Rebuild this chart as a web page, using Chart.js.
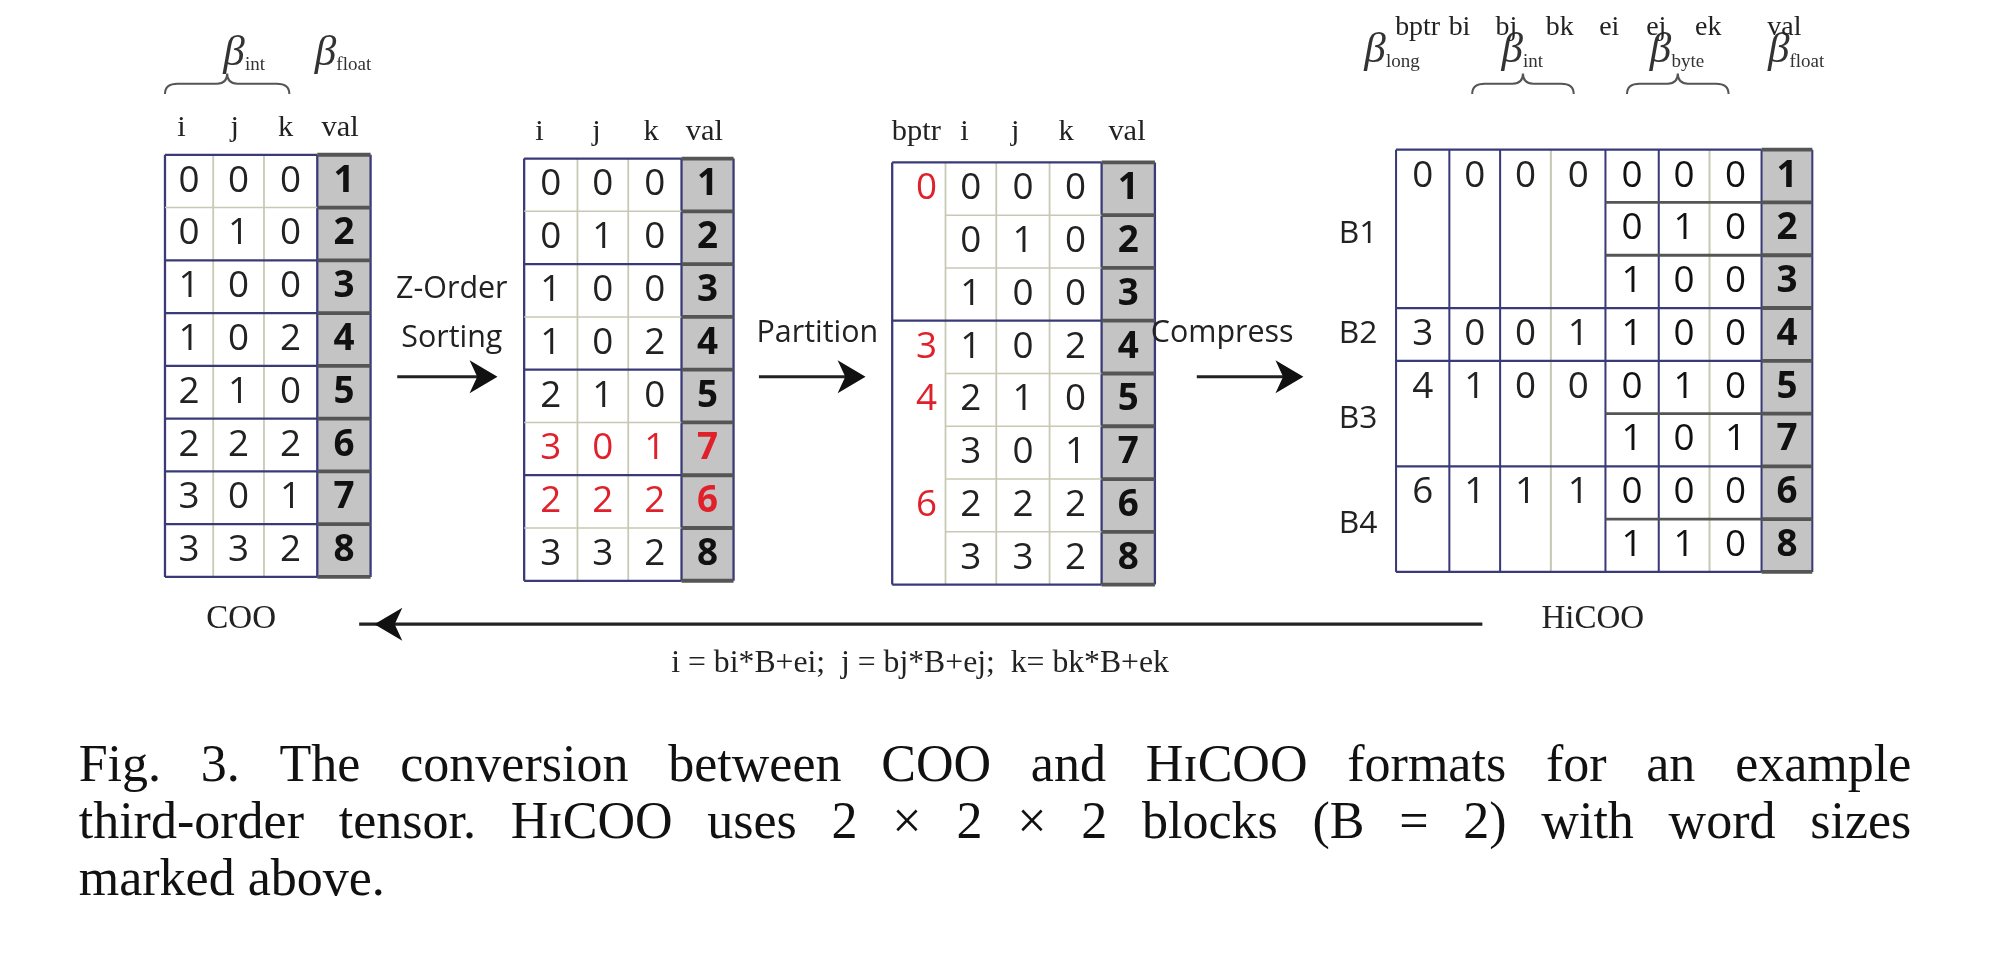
<!DOCTYPE html>
<html lang="en">
<head>
<meta charset="UTF-8">
<title>COO to HiCOO</title>
<script src="https://cdn.jsdelivr.net/npm/chart.js@4/dist/chart.umd.min.js"></script>
<style>
  html, body { margin: 0; padding: 0; background: #fff; }
  #wrap { width: 1990px; height: 954px; }
</style>
</head>
<body>
<div id="wrap"><canvas id="fig"></canvas></div>
<script>
// data (rows of i, j, k, val)
const cooRows = [[0,0,0,1],[0,1,0,2],[1,0,0,3],[1,0,2,4],[2,1,0,5],[2,2,2,6],[3,0,1,7],[3,3,2,8]];
const sortedRows = [[0,0,0,1],[0,1,0,2],[1,0,0,3],[1,0,2,4],[2,1,0,5],[3,0,1,7],[2,2,2,6],[3,3,2,8]];
const redRows = [5, 6];
const bptrValues = [0, 3, 4, 6];
const blockStartRows = [0, 3, 4, 6];
const blockNames = ['B1', 'B2', 'B3', 'B4'];
const blockCoords = [[0,0,0],[0,0,1],[1,0,0],[1,1,1]];
const elemCoords = [[0,0,0],[0,1,0],[1,0,0],[1,0,0],[0,1,0],[1,0,1],[0,0,0],[1,1,0]];
const hicooVals = [1,2,3,4,5,7,6,8];
const captionLines = [
  'Fig. 3.  The conversion between COO and H\u026aCOO formats for an example',
  'third-order tensor. H\u026aCOO uses 2 \u00d7 2 \u00d7 2 blocks (B = 2) with word sizes',
  'marked above.'
];

const W = 1568, H = 752;
const NAVY = '#3a3a78', GRID = '#c8c8b4', RED = '#e0202a';

const figPlugin = {
  id: 'fig',
  afterDraw(chart) {
    const ctx = chart.ctx, xs = chart.scales.x, ys = chart.scales.y;
    const X = v => xs.getPixelForValue(v), Y = v => ys.getPixelForValue(v);
    const S = chart.width / W;
    const font = (sz, fam, st) => `${st || ''} ${sz * S}px ${fam}`;
    const sans = '"Open Sans", "DejaVu Sans", sans-serif';
    const serif = '"Liberation Serif", "DejaVu Serif", serif';
    const text = (t, x, y, sz, fam, col, al, st) => {
      ctx.font = font(sz, fam, st); ctx.fillStyle = col || '#222';
      ctx.textAlign = al || 'center'; ctx.textBaseline = 'middle';
      ctx.fillText(t, X(x), Y(y));
    };
    const line = (x1, y1, x2, y2, col, w) => {
      ctx.beginPath(); ctx.strokeStyle = col; ctx.lineWidth = w * S;
      ctx.moveTo(X(x1), Y(y1)); ctx.lineTo(X(x2), Y(y2)); ctx.stroke();
    };
    const beta = (x, y, sub) => {
      text('\u03b2', x, y, 34, serif, '#333', 'left', 'italic');
      text(sub, x + 17, y + 9, 15, serif, '#333', 'left');
    };
    const brace = (x1, x2, y) => {
      const m = (x1 + x2) / 2;
      ctx.beginPath(); ctx.strokeStyle = '#555'; ctx.lineWidth = 1.6 * S;
      ctx.moveTo(X(x1), Y(y + 8));
      ctx.quadraticCurveTo(X(x1), Y(y), X(x1 + 10), Y(y));
      ctx.lineTo(X(m - 8), Y(y));
      ctx.quadraticCurveTo(X(m), Y(y), X(m), Y(y - 8));
      ctx.quadraticCurveTo(X(m), Y(y), X(m + 8), Y(y));
      ctx.lineTo(X(x2 - 10), Y(y));
      ctx.quadraticCurveTo(X(x2), Y(y), X(x2), Y(y + 8));
      ctx.stroke();
    };
    const arrow = (x1, x2, y) => {
      line(x1, y, x2 - 12, y, '#222', 2.5);
      const d = x2 > x1 ? 1 : -1;
      ctx.beginPath(); ctx.fillStyle = '#111';
      ctx.moveTo(X(x2), Y(y)); ctx.lineTo(X(x2 - d * 22), Y(y - 13));
      ctx.lineTo(X(x2 - d * 16), Y(y)); ctx.lineTo(X(x2 - d * 22), Y(y + 13));
      ctx.closePath(); ctx.fill();
    };
    const rowH = 41.6;
    const table = (edges, top, rows, opts) => {
      const n = rows.length, bot = top + n * rowH;
      const vx = edges[edges.length - 2], vx2 = edges[edges.length - 1];
      ctx.fillStyle = '#c4c4c4';
      ctx.fillRect(X(vx), Y(top), X(vx2) - X(vx), Y(bot) - Y(top));
      for (let c = 0; c < edges.length; c++) {
        const outer = c === 0 || c >= edges.length - 2;
        line(edges[c], top, edges[c], bot, outer || opts.navyCols ? NAVY : GRID, outer ? 1.8 : 1.4);
      }
      for (let r = 0; r <= n; r++) {
        const y = top + r * rowH;
        const thick = r === 0 || r === n || (opts.thick || []).includes(r);
        const x0 = opts.lineFrom ? opts.lineFrom(r) : edges[0];
        line(x0, y, vx, y, thick ? NAVY : GRID, thick ? 1.8 : 1.2);
        line(vx, y, vx2, y, '#555', 3);
      }
      rows.forEach((row, r) => {
        const col = (opts.red || []).includes(r) ? RED : '#222';
        row.forEach((v, c) => {
          const off = edges.length - 1 - row.length;
          const last = c === row.length - 1;
          text(String(v), (edges[c + off] + edges[c + off + 1]) / 2, top + r * rowH + rowH / 2,
            29, sans, last && col === '#222' ? '#111' : col, 'center', last ? 'bold' : '');
        });
      });
    };

    // COO table
    beta(176, 42, 'int'); beta(248, 42, 'float');
    brace(130, 228, 66);
    [['i', 143], ['j', 185], ['k', 225], ['val', 268]].forEach(h => text(h[0], h[1], 101, 24, serif));
    table([130, 168, 208, 250, 292], 122, cooRows, { thick: [2, 3, 4, 5, 6, 7] });
    text('COO', 190, 488, 26, serif);

    // arrow 1
    text('Z-Order', 356, 228, 24, sans); text('Sorting', 356, 267, 24, sans);
    arrow(313, 392, 297);

    // sorted table
    [['i', 425], ['j', 470], ['k', 513], ['val', 555]].forEach(h => text(h[0], h[1], 104, 24, serif));
    table([413, 455, 495, 537, 578], 125, sortedRows, { thick: [2, 4, 6], red: redRows });

    // arrow 2
    text('Partition', 644, 263, 24, sans);
    arrow(598, 682, 297);

    // partitioned table
    [['bptr', 722], ['i', 760], ['j', 800], ['k', 840], ['val', 888]].forEach(h => text(h[0], h[1], 104, 24, serif));
    table([703, 745, 785, 827, 868, 910], 128, sortedRows, {
      thick: [3], lineFrom: r => (r === 0 || r === 3 || r === 8) ? 703 : 745
    });
    bptrValues.forEach((b, i) => text(String(b), 730, 128 + blockStartRows[i] * rowH + rowH / 2, 29, sans, RED));

    // arrow 3
    text('Compress', 963, 263, 24, sans);
    arrow(943, 1027, 297);

    // HiCOO table
    beta(1075, 40, 'long'); beta(1183, 40, 'int'); beta(1300, 40, 'byte'); beta(1393, 40, 'float');
    brace(1160, 1240, 66); brace(1282, 1362, 66);
    [['bptr', 1117], ['bi', 1150], ['bj', 1187], ['bk', 1229], ['ei', 1268], ['ej', 1305], ['ek', 1346], ['val', 1406]]
      .forEach(h => text(h[0], h[1], 22, 22, serif) || 0);
    const hx = [1100, 1142, 1182, 1222, 1265, 1307, 1347, 1388, 1428], ht = 118;
    const hRows = elemCoords.map((e, r) => [...e, hicooVals[r]]);
    const hBot = ht + 8 * rowH;
    ctx.fillStyle = '#c4c4c4';
    ctx.fillRect(X(1388), Y(ht), X(1428) - X(1388), Y(hBot) - Y(ht));
    hx.forEach((x, c) => line(x, ht, x, hBot, (c === 0 || c === 4 || c >= 7) ? NAVY : (c === 3 || c === 6 ? GRID : NAVY), 1.6));
    for (let r = 0; r <= 8; r++) {
      const y = ht + r * rowH;
      const blk = r === 0 || r === 8 || blockStartRows.includes(r);
      line(blk ? 1100 : 1265, y, 1388, y, blk ? NAVY : '#555', blk ? 1.8 : 2.2);
      line(1388, y, 1428, y, '#555', 3);
    }
    hRows.forEach((row, r) => row.forEach((v, c) => {
      const last = c === 3;
      text(String(v), (hx[c + 4] + hx[c + 5]) / 2, ht + r * rowH + rowH / 2, 29, sans, '#111', 'center', last ? 'bold' : '');
    }));
    blockStartRows.forEach((s, b) => {
      const y = ht + s * rowH + rowH / 2;
      [bptrValues[b], ...blockCoords[b]].forEach((v, c) => text(String(v), (hx[c] + hx[c + 1]) / 2, y, 29, sans));
      const span = (blockStartRows[b + 1] || 8) - s;
      text(blockNames[b], 1070, ht + (s + span / 2) * rowH + (span === 1 ? 0 : 4), 25, sans);
    });
    text('HiCOO', 1255, 488, 26, serif);

    // back conversion
    arrow(1168, 295, 492);
    text('i = bi*B+ei;  j = bj*B+ej;  k= bk*B+ek', 725, 523, 25, serif);

    // caption (justified)
    ctx.font = font(41, serif); ctx.fillStyle = '#111'; ctx.textBaseline = 'middle'; ctx.textAlign = 'left';
    captionLines.forEach((ln, i) => {
      const y = Y(605 + i * 45), x0 = X(62), x1 = X(1506);
      if (i === captionLines.length - 1) { ctx.fillText(ln, x0, y); return; }
      const words = ln.split(/\s+/);
      const tw = words.reduce((a, w) => a + ctx.measureText(w).width, 0);
      const gap = Math.max(ctx.measureText(' ').width, (x1 - x0 - tw) / (words.length - 1));
      let x = x0;
      words.forEach(w => { ctx.fillText(w, x, y); x += ctx.measureText(w).width + gap; });
    });
  }
};

new Chart(document.getElementById('fig'), {
  type: 'scatter',
  data: { datasets: [{ data: [] }] },
  options: {
    responsive: true, maintainAspectRatio: false, animation: false,
    layout: { padding: 0 },
    plugins: { legend: { display: false }, tooltip: { enabled: false } },
    scales: {
      x: { type: 'linear', min: 0, max: W, display: false },
      y: { type: 'linear', min: 0, max: H, reverse: true, display: false }
    }
  },
  plugins: [figPlugin]
});
</script>
</body>
</html>
